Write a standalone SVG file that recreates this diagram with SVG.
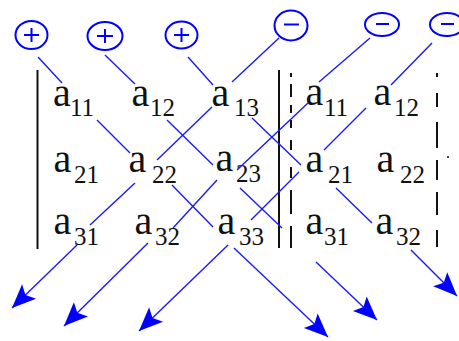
<svg xmlns="http://www.w3.org/2000/svg" width="459" height="341" viewBox="0 0 459 341">
<style>
  .a { font-family: "Liberation Serif", "Times New Roman", serif; font-size: 40px; fill: #111; }
  .s { font-family: "Liberation Serif", "Times New Roman", serif; font-size: 25px; fill: #111; }
  .bar { stroke: #111; stroke-width: 2; fill: none; }
  .ln { stroke: #1a1aff; stroke-width: 1.4; fill: none; }
  .arr { stroke: #1a1aff; stroke-width: 1.4; fill: none; marker-end: url(#ah); }
  .sign { stroke: #0000ff; stroke-width: 2; fill: none; }
</style>
<defs>
  <marker id="ah" markerUnits="userSpaceOnUse" markerWidth="30" markerHeight="30" viewBox="-22 -11 24 22" refX="0" refY="0" orient="auto" overflow="visible">
    <path d="M0,0 L-19,-8 L-15,0 L-19,8 Z" fill="#0000ff"/>
  </marker>
</defs>
<rect width="459" height="341" fill="#ffffff"/>

<g id="signs">
  <g id="plus1"><ellipse class="sign" cx="31.5" cy="35" rx="16" ry="14"/><path class="sign" d="M24,35 H39 M31.5,28 V42"/></g>
  <g id="plus2"><ellipse class="sign" cx="105" cy="36" rx="17.5" ry="14"/><path class="sign" d="M97,36 H113 M105,29 V43"/></g>
  <g id="plus3"><ellipse class="sign" cx="181.5" cy="35" rx="16" ry="13.5"/><path class="sign" d="M174,35 H189 M181.5,28 V42"/></g>
  <g id="minus1"><ellipse class="sign" cx="291" cy="25.5" rx="16.5" ry="15"/><path class="sign" d="M284,24.5 H299"/></g>
  <g id="minus2"><ellipse class="sign" cx="382" cy="24.5" rx="17" ry="11.5"/><path class="sign" d="M376,24 H389"/></g>
  <g id="minus3"><ellipse class="sign" cx="447" cy="24.5" rx="17" ry="11.5"/><path class="sign" d="M441,24 H454"/></g>
</g>

<g id="bars">
  <path class="bar" d="M37.5,70 V249"/>
  <path class="bar" d="M279,70 V248"/>
  <path class="bar" d="M291,73 V77 M291,84 V97 M291,105 V113 M291,120 V128 M291,140 V150 M291,167 V178 M291,190 V214 M291,226 V248"/>
  <path class="bar" d="M437,73 V77 M437,93 V107 M437,122 V148 M437,160 V180 M437,192 V215 M437,230 V247"/>
  <rect x="447" y="156" width="2" height="2" fill="#444"/>
</g>

<g id="entries">
  <g id="r1c1"><text class="a" x="53" y="106">a</text><text class="s" x="70" y="116">11</text></g>
  <g id="r1c2"><text class="a" x="131.5" y="106">a</text><text class="s" x="150" y="116">12</text></g>
  <g id="r1c3"><text class="a" x="211.5" y="106">a</text><text class="s" x="234" y="116">13</text></g>
  <g id="r1c4"><text class="a" x="305.5" y="105">a</text><text class="s" x="324" y="116">11</text></g>
  <g id="r1c5"><text class="a" x="373.5" y="105">a</text><text class="s" x="394" y="116">12</text></g>

  <g id="r2c1"><text class="a" x="53.5" y="171.5">a</text><text class="s" x="74" y="183">21</text></g>
  <g id="r2c2"><text class="a" x="128.5" y="171.5">a</text><text class="s" x="152" y="183">22</text></g>
  <g id="r2c3"><text class="a" x="215.5" y="170.5">a</text><text class="s" x="236" y="182">23</text></g>
  <g id="r2c4"><text class="a" x="305.5" y="171.5">a</text><text class="s" x="328" y="183">21</text></g>
  <g id="r2c5"><text class="a" x="376.5" y="171.5">a</text><text class="s" x="400" y="183">22</text></g>

  <g id="r3c1"><text class="a" x="53.5" y="234">a</text><text class="s" x="74" y="245">31</text></g>
  <g id="r3c2"><text class="a" x="134.5" y="234">a</text><text class="s" x="155" y="245">32</text></g>
  <g id="r3c3"><text class="a" x="217.5" y="234">a</text><text class="s" x="239" y="245">33</text></g>
  <g id="r3c4"><text class="a" x="305.5" y="234">a</text><text class="s" x="324" y="245">31</text></g>
  <g id="r3c5"><text class="a" x="375.5" y="234">a</text><text class="s" x="396" y="245">32</text></g>
</g>

<g id="connectors">
  <path class="ln" d="M38,57 L62,83 M97,120 L130,153 M172,185 L213,227"/>
  <path class="arr" d="M234,248 L328,337"/>
  <path class="ln" d="M105,55 L135,84 M167,120 L213,165 M240,188 L282,228"/>
  <path class="arr" d="M316,262 L377,320"/>
  <path class="ln" d="M188,57 L213,85 M252,118 L301,165 M336,188 L372,223"/>
  <path class="arr" d="M411,250 L457,296"/>
  <path class="ln" d="M279,38 L232,82 M212,107 L157,160 M135,183 L90,225"/>
  <path class="arr" d="M77,245 L12,308"/>
  <path class="ln" d="M370,38 L319,82 M308,103 L237,170 M217,180 L173,228"/>
  <path class="arr" d="M148,243 L64,326"/>
  <path class="ln" d="M432,43 L391,85 M366,108 L324,150 M299,172 L251,220"/>
  <path class="arr" d="M228,245 L139,331"/>
</g>
</svg>
